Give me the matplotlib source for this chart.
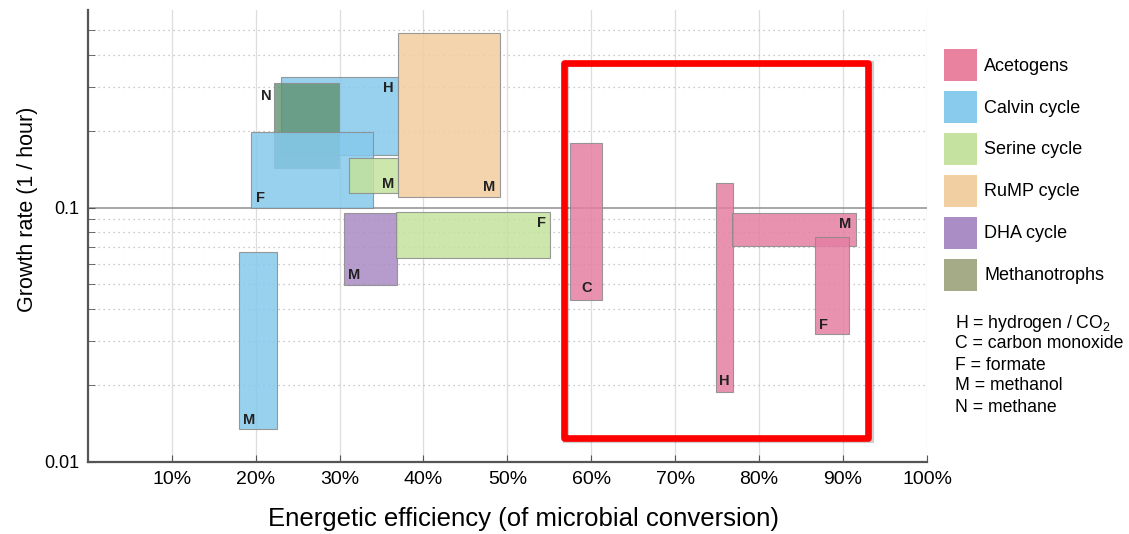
"""
Growth rate vs energetic efficiency of C1 assimilation pathways
"""
import matplotlib
matplotlib.use("Agg")
import matplotlib.pyplot as plt
from matplotlib.patches import Rectangle, Patch
from matplotlib.ticker import FixedLocator, NullFormatter

plt.rcParams['font.family'] = ['Liberation Sans', 'DejaVu Sans']
plt.rcParams['mathtext.fontset'] = 'custom'
plt.rcParams['mathtext.rm'] = 'Liberation Sans'
plt.rcParams['mathtext.default'] = 'regular'

# pathway groups and their colours (legend / boxes)
groups = ['Acetogens', 'Calvin cycle', 'Serine cycle', 'RuMP cycle', 'DHA cycle', 'Methanotrophs']
group_colors = ['#e8829f', '#89cbed', '#c5e2a0', '#f2cfa2', '#ab8dc5', '#a5aa87']
box_colors = ['#e57fa3', '#86c9ec', '#c3e29c', '#f1cd9f', '#a98bc4', '#5f9270']

# one box per pathway / substrate (efficiency in %, growth rate in 1/hour)
box_group = ['Calvin cycle', 'DHA cycle', 'Serine cycle', 'Calvin cycle', 'Methanotrophs',
             'Calvin cycle', 'Serine cycle', 'RuMP cycle',
             'Acetogens', 'Acetogens', 'Acetogens', 'Acetogens']
box_letter = ['M', 'M', 'F', 'H', 'N', 'F', 'M', 'M', 'C', 'H', 'M', 'F']
eff_low = [18.0, 30.5, 36.7, 23.0, 22.2, 19.5, 31.1, 37.0, 57.5, 74.8, 76.8, 86.6]
eff_high = [22.6, 36.8, 55.1, 37.0, 29.9, 34.0, 37.0, 49.1, 61.3, 76.9, 91.5, 90.7]
rate_low = [0.0134, 0.0498, 0.0636, 0.162, 0.144, 0.100, 0.114, 0.110, 0.0435, 0.0188, 0.0705, 0.0317]
rate_high = [0.0669, 0.095, 0.096, 0.328, 0.309, 0.198, 0.157, 0.489, 0.180, 0.125, 0.0956, 0.0766]
label_spot = ['bl', 'bl', 'tr', 'tr', 'out', 'bl', 'br', 'br', 'bc', 'bc', 'tr', 'bl']

# highlighted region (red frame)
frame_eff = [56.7, 93.0]
frame_rate = [0.01236, 0.37]

x_ticks = [10, 20, 30, 40, 50, 60, 70, 80, 90, 100]
y_ticks = [0.01, 0.1]
key_lines = ['H = hydrogen / CO$_2$', 'C = carbon monoxide', 'F = formate',
             'M = methanol', 'N = methane']

box_color_of = dict(zip(groups, box_colors))

fig = plt.figure(figsize=(11.29, 5.34), dpi=100)
ax = fig.add_axes([0.0777, 0.1354, 0.7434, 0.8456])
ax.set_yscale('log')
ax.set_xlim(0, 100)
ax.set_ylim(0.01, 0.6)

# grid
for xv in x_ticks:
    ax.axvline(xv, color='#dddddd', lw=0.9, zorder=0)
minor_y = [k * 0.01 for k in range(2, 10)] + [k * 0.1 for k in range(2, 6)]
for yv in minor_y:
    ax.axhline(yv, color='#b8b8b8', lw=0.9, ls=(0, (1, 3)), zorder=0)
ax.axhline(0.1, color='#a0a0a0', lw=1.3, zorder=0.5)

# boxes
offsets = {'bl': (3, 2, 'left', 'bottom'), 'br': (-3, 2, 'right', 'bottom'),
           'tr': (-3, -3, 'right', 'top'), 'bc': (0, 3, 'center', 'bottom')}
for i in range(len(box_letter)):
    alpha = 0.8 if box_group[i] == 'Methanotrophs' else 0.85
    rect = Rectangle((eff_low[i], rate_low[i]), eff_high[i] - eff_low[i], rate_high[i] - rate_low[i],
                     facecolor=box_color_of[box_group[i]], edgecolor='#8a8a8a', lw=0.8,
                     alpha=alpha, zorder=2 + i * 0.01)
    ax.add_patch(rect)
    spot = label_spot[i]
    if spot == 'out':
        ax.annotate(box_letter[i], (eff_low[i], rate_high[i]), xytext=(-2, -4),
                    textcoords='offset points', ha='right', va='top',
                    fontsize=10.5, fontweight='bold', color='#222222', zorder=5)
        continue
    dx, dy, ha, va = offsets[spot]
    xa = {'left': eff_low[i], 'right': eff_high[i], 'center': (eff_low[i] + eff_high[i]) / 2}[ha]
    ya = rate_low[i] if va == 'bottom' else rate_high[i]
    ax.annotate(box_letter[i], (xa, ya), xytext=(dx, dy), textcoords='offset points',
                ha=ha, va=va, fontsize=10.5, fontweight='bold', color='#222222', zorder=5)

# red frame around acetogens
ax.add_patch(Rectangle((frame_eff[0] + 0.3, frame_rate[0] * 0.985), frame_eff[1] - frame_eff[0],
                       frame_rate[1] - frame_rate[0], fill=False, edgecolor='#00000030',
                       lw=4.5, clip_on=False, zorder=9))
ax.add_patch(Rectangle((frame_eff[0], frame_rate[0]), frame_eff[1] - frame_eff[0],
                       frame_rate[1] - frame_rate[0], fill=False, edgecolor='#ff0000',
                       lw=4.8, clip_on=False, zorder=10, joinstyle='round'))

# axes styling
for side in ['top', 'right']:
    ax.spines[side].set_visible(False)
for side in ['left', 'bottom']:
    ax.spines[side].set_color('#555555')
    ax.spines[side].set_linewidth(1.6)

ax.set_xticks(x_ticks)
ax.set_xticklabels([f'{v}%' for v in x_ticks], fontsize=14)
ax.tick_params(axis='x', direction='in', length=5, color='#555555', pad=7)
ax.yaxis.set_major_locator(FixedLocator(y_ticks))
ax.set_yticklabels(['0.01', '0.1'], fontsize=13)
ax.yaxis.set_minor_locator(FixedLocator(minor_y))
ax.yaxis.set_minor_formatter(NullFormatter())
ax.tick_params(axis='y', which='both', direction='in', length=5, color='#555555', pad=6)

ax.set_xlabel('Energetic efficiency (of microbial conversion)', fontsize=18.5)
ax.xaxis.set_label_coords(0.519, -0.127)
ax.xaxis.label.set_va('center')
ax.set_ylabel('Growth rate (1 / hour)', fontsize=15.5)
ax.yaxis.set_label_coords(-0.0715, 0.559)
ax.yaxis.label.set_va('center')

# legend
handles = [Patch(facecolor=c, edgecolor='none') for c in group_colors]
fig.legend(handles, groups, loc='upper left', bbox_to_anchor=(944 / 1129, 1 - 49 / 534),
           bbox_transform=fig.transFigure, frameon=False, fontsize=13,
           handlelength=1.83, handleheight=2.35, handletextpad=0.39, labelspacing=0.55,
           borderpad=0, borderaxespad=0)

for k, line in enumerate(key_lines):
    fig.text(955 / 1129, 1 - (323 + 21 * k) / 534, line, fontsize=12.7, va='center', ha='left')

fig.savefig('out.png', dpi=100)
